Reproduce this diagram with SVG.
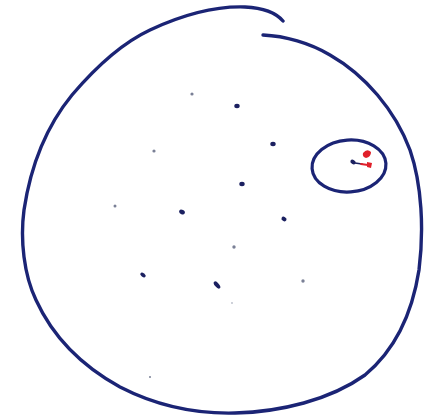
<svg xmlns="http://www.w3.org/2000/svg" width="424" height="419" viewBox="0 0 424 419">
<style>
.ink{fill:none;stroke:#1b2475;stroke-linecap:round;stroke-linejoin:round}
.d{fill:#1b2060}
.g{fill:#7a8096}
.r{fill:#e0202a}
</style>
<rect width="424" height="419" fill="#fff"/>
<g id="outer">
<path class="ink" stroke-width="3.4" d="M283,21 C277,14 265,8 245,7 C215,6 180,16 150,30 C120,44 95,68 72,95 C45,128 30,170 24,210 C20,240 24,275 36,300 C52,335 80,365 120,387 C155,405 195,414 235,413 C280,412 330,400 365,375 C395,350 412,315 419,270 C424,230 422,185 410,150 C395,110 365,75 330,55 C310,43 285,36 263,35"/>
</g>
<g id="ellipse">
<ellipse class="ink" stroke-width="3.2" cx="349" cy="166" rx="37" ry="26" transform="rotate(-4 349 166)"/>
<ellipse class="d" cx="353" cy="162" rx="2.8" ry="2.1" transform="rotate(30 353 162)"/>
<path d="M355,163 L362,164" stroke="#1b2060" stroke-width="1.6" fill="none" stroke-linecap="round"/>
<path class="r" d="M363,153 Q367,148 371,152 Q371,157 366,158 Q362,157 363,153 Z"/>
<path d="M361,164 L368,165" stroke="#e0202a" stroke-width="1.8" fill="none" stroke-linecap="round"/>
<path class="r" d="M367,162 L372,163 L371,168 L367,167 Z"/>
</g>
<g id="dots">
<circle class="g" cx="192" cy="94" r="1.6"/>
<ellipse class="d" cx="237" cy="106" rx="2.7" ry="2.2"/>
<ellipse class="d" cx="273" cy="144" rx="2.7" ry="2.2"/>
<circle class="g" cx="154" cy="151" r="1.6"/>
<ellipse class="d" cx="242" cy="184" rx="2.7" ry="2.2"/>
<circle class="g" cx="115" cy="206" r="1.5"/>
<ellipse class="d" cx="182" cy="212" rx="3" ry="2.2" transform="rotate(30 182 212)"/>
<ellipse class="d" cx="284" cy="219" rx="2.7" ry="2.1" transform="rotate(30 284 219)"/>
<circle class="g" cx="234" cy="247" r="1.7"/>
<ellipse class="d" cx="143" cy="275" rx="3" ry="1.9" transform="rotate(35 143 275)"/>
<ellipse class="d" cx="217" cy="285" rx="4.4" ry="2.1" transform="rotate(50 217 285)"/>
<circle class="g" cx="303" cy="281" r="1.7"/>
<circle fill="#b8bcc8" cx="232" cy="303" r="0.9"/>
<circle class="g" cx="150" cy="377" r="1"/>
</g>
</svg>
